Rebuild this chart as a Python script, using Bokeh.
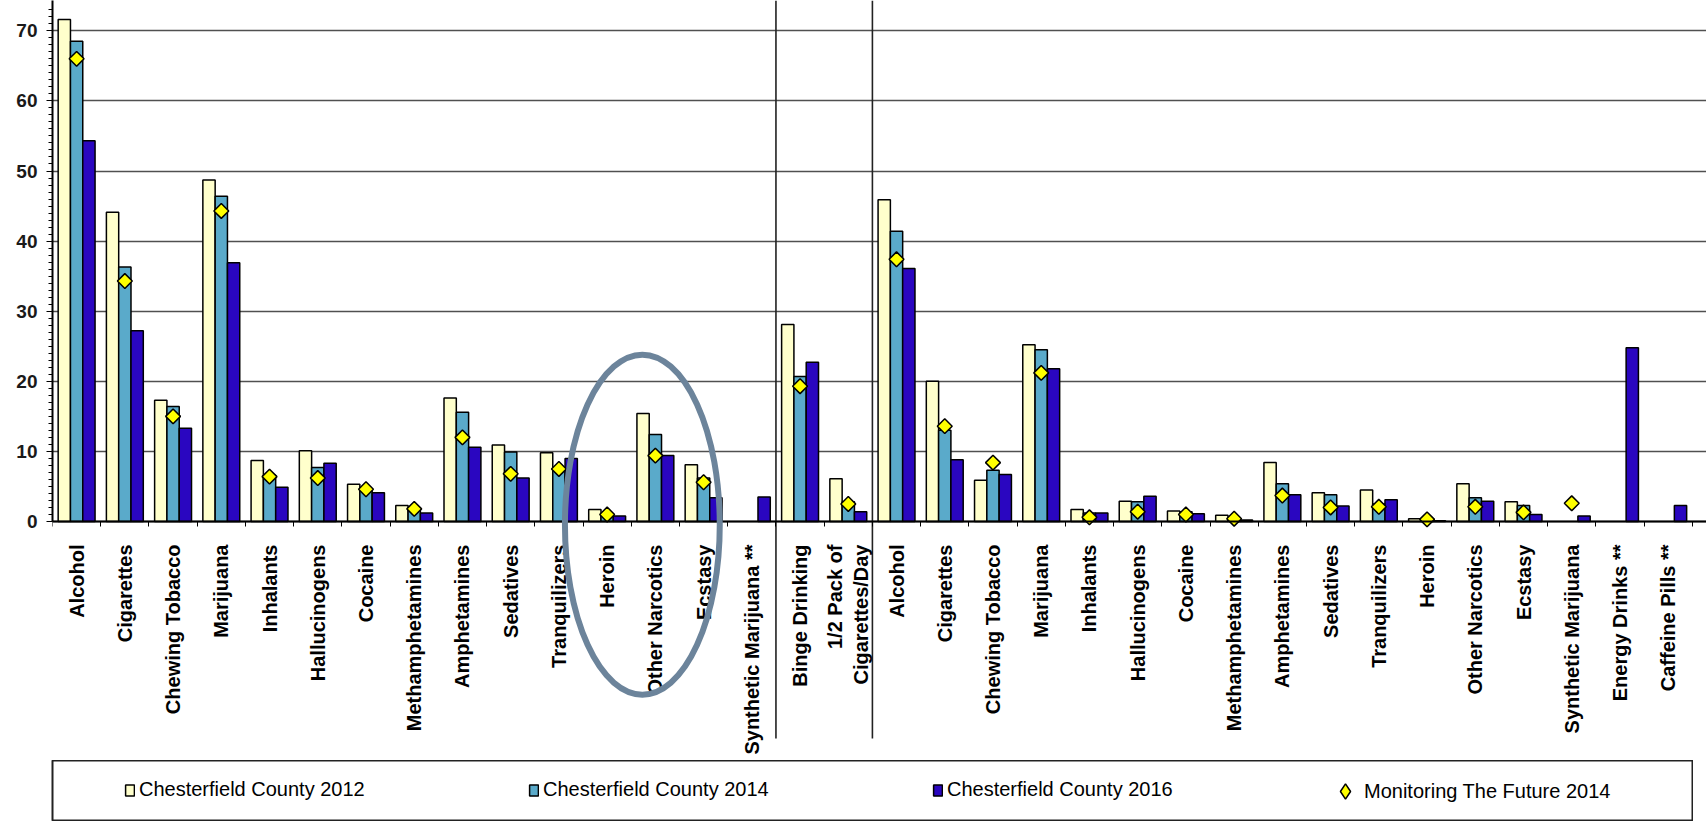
import math
import numpy as np
from bokeh.plotting import figure
from bokeh.models import Range1d, FixedTicker, Legend, LegendItem
from bokeh.layouts import column
from bokeh.embed import file_html
from bokeh.resources import INLINE

nan = float("nan")

# ---------------- data ----------------
sec1 = ["Alcohol", "Cigarettes", "Chewing Tobacco", "Marijuana", "Inhalants",
        "Hallucinogens", "Cocaine", "Methamphetamines", "Amphetamines",
        "Sedatives", "Tranquilizers", "Heroin", "Other Narcotics", "Ecstasy",
        "Synthetic Marijuana **"]
sec2 = ["Binge Drinking", "1/2 Pack of\nCigarettes/Day"]
sec3 = ["Alcohol", "Cigarettes", "Chewing Tobacco", "Marijuana", "Inhalants",
        "Hallucinogens", "Cocaine", "Methamphetamines", "Amphetamines",
        "Sedatives", "Tranquilizers", "Heroin", "Other Narcotics", "Ecstasy",
        "Synthetic Marijuana", "Energy Drinks **", "Caffeine Pills **"]
categories = sec1 + sec2 + sec3

cc2012 = [71.6, 44.1, 17.3, 48.7, 8.7, 10.1, 5.3, 2.3, 17.6, 10.9, 9.8, 1.7, 15.4, 8.1, nan,
          28.1, 6.1,
          45.9, 20.0, 5.9, 25.2, 1.7, 2.9, 1.5, 0.9, 8.4, 4.1, 4.5, 0.4, 5.4, 2.8, nan, nan, nan]
cc2014 = [68.5, 36.3, 16.4, 46.4, 6.6, 7.7, 4.4, 1.6, 15.6, 9.9, 7.3, 1.1, 12.4, 6.2, nan,
          20.7, 2.8,
          41.4, 13.0, 7.3, 24.5, 1.2, 2.8, 1.4, 0.5, 5.4, 3.8, 2.5, 0.2, 3.4, 2.3, nan, nan, nan]
cc2016 = [54.3, 27.2, 13.3, 36.9, 4.9, 8.3, 4.1, 1.2, 10.6, 6.2, 9.0, 0.8, 9.4, 3.4, 3.5,
          22.7, 1.4,
          36.1, 8.8, 6.7, 21.8, 1.2, 3.6, 1.1, 0.2, 3.8, 2.2, 3.1, 0.1, 2.9, 1.0, 0.8, 24.8, 2.3]
mtf2014 = [66.0, 34.3, 15.0, 44.3, 6.4, 6.2, 4.6, 1.8, 12.0, 6.8, 7.5, 1.0, 9.4, 5.6, nan,
           19.3, 2.5,
           37.4, 13.6, 8.4, 21.2, 0.6, 1.4, 1.0, 0.4, 3.7, 2.0, 2.1, 0.3, 2.1, 1.3, 2.6, nan, nan]

y_ticks = [0, 10, 20, 30, 40, 50, 60, 70]
series_labels = ["Chesterfield County 2012", "Chesterfield County 2014",
                 "Chesterfield County 2016", "Monitoring The Future 2014"]

# ---------------- layout constants (pixels) ----------------
FIG_W, FIG_H = 1706, 760
LEFT = 52            # frame left
ZERO_Y = 521         # pixel row of value 0 (from figure top)
FRAME_B = 756        # frame bottom pixel row
DIV_B = 738          # bottom of divider lines
PX_PER_UNIT = 7.01
CAT_PX = 48.23

y_end = ZERO_Y / PX_PER_UNIT
y_start = -(FRAME_B - ZERO_Y) / PX_PER_UNIT
y_div = -(DIV_B - ZERO_Y) / PX_PER_UNIT
x_end = (FIG_W - LEFT) / CAT_PX

C_2012 = "#FFFFCC"
C_2014 = "#5AAACA"
C_2016 = "#2A06C0"
C_MTF = "#FFFF00"
FONT = "Liberation Sans"

n = len(categories)
centers = np.arange(n) + 0.5
bw = 0.255

p = figure(width=FIG_W, height=FIG_H,
           x_range=Range1d(0, x_end), y_range=Range1d(y_start, y_end),
           min_border_left=LEFT, min_border_right=0, min_border_top=0,
           min_border_bottom=FIG_H - FRAME_B,
           toolbar_location=None, output_backend="svg")
p.outline_line_color = None
p.background_fill_color = "white"
p.xgrid.visible = False

p.ygrid.grid_line_color = "#505050"
p.ygrid.grid_line_width = 1.5

bar_kw = dict(width=bw, line_color="black", line_width=1.5)
p.vbar(x=centers - bw, top=cc2012, bottom=0, fill_color=C_2012, **bar_kw)
p.vbar(x=centers, top=cc2014, bottom=0, fill_color=C_2014, **bar_kw)
p.vbar(x=centers + bw, top=cc2016, bottom=0, fill_color=C_2016, **bar_kw)
p.scatter(x=centers, y=mtf2014, marker="square", angle=math.pi / 4, size=10.5,
          fill_color=C_MTF, line_color="black", line_width=1.5)

# section dividers
bounds_x = [len(sec1), len(sec1) + len(sec2)]
p.segment(x0=bounds_x, y0=[y_div] * 2, x1=bounds_x, y1=[y_end] * 2,
          line_color="#222222", line_width=1.6)

# highlight ellipse annotation
p.ellipse(x=[12.23], y=[-0.45], width=3.21, height=48.5, fill_color=None,
          line_color="#6C849B", line_width=6, level="overlay")

# y axis
ya = p.yaxis[0]
ya.ticker = FixedTicker(ticks=y_ticks, minor_ticks=list(range(0, 74)))
ya.bounds = (0, y_end)
ya.axis_line_color = "black"
ya.axis_line_width = 2
ya.major_tick_out = 6
ya.major_tick_in = 0
ya.minor_tick_out = 4
ya.minor_tick_in = 0
ya.major_tick_line_color = "black"
ya.minor_tick_line_color = "black"
ya.major_label_text_font = FONT
ya.major_label_text_font_style = "bold"
ya.major_label_text_font_size = "19px"
ya.major_label_text_color = "#1a1a1a"
ya.major_label_standoff = 9

# x axis (fixed at zero)
xa = p.xaxis[0]
xa.fixed_location = 0
xa.ticker = FixedTicker(ticks=list(centers), minor_ticks=list(range(0, n + 1)))
xa.major_label_overrides = {float(c): lab for c, lab in zip(centers, categories)}
xa.major_label_orientation = math.pi / 2
xa.major_tick_line_color = None
xa.major_tick_out = 0
xa.major_tick_in = 0
xa.minor_tick_out = 5
xa.minor_tick_in = 0
xa.minor_tick_line_color = "black"
xa.axis_line_color = "black"
xa.axis_line_width = 2
xa.major_label_text_font = FONT
xa.major_label_text_font_style = "bold"
xa.major_label_text_font_size = "20px"
xa.major_label_text_color = "black"
xa.major_label_standoff = 18

# ---------------- legend figure ----------------
lf = figure(width=1693, height=61, x_range=(0, 1), y_range=(0, 1),
            min_border_left=51, min_border_right=0, min_border_top=0, min_border_bottom=0,
            x_axis_location=None, y_axis_location=None,
            toolbar_location=None, output_backend="svg")
lf.grid.visible = False
lf.outline_line_color = "#222222"
lf.outline_line_width = 2

r1 = lf.vbar(x=[nan], top=[nan], width=0.1, fill_color=C_2012, line_color="black", line_width=1.5)
r2 = lf.vbar(x=[nan], top=[nan], width=0.1, fill_color=C_2014, line_color="black", line_width=1.5)
r3 = lf.vbar(x=[nan], top=[nan], width=0.1, fill_color=C_2016, line_color="black", line_width=1.5)
r4 = lf.scatter(x=[nan], y=[nan], marker="diamond", size=16, fill_color=C_MTF,
                line_color="black", line_width=1.5)

leg_kw = dict(orientation="horizontal", padding=0, margin=0,
              border_line_color=None, background_fill_alpha=0,
              label_text_font=FONT, label_text_font_size="20px",
              label_text_color="black")
legend = Legend(items=[LegendItem(label=series_labels[0], renderers=[r1]),
                       LegendItem(label=series_labels[1], renderers=[r2]),
                       LegendItem(label=series_labels[2], renderers=[r3])],
                location=(72, 20), spacing=149,
                glyph_width=11, glyph_height=14, label_width=240, label_standoff=4,
                **leg_kw)
legend_mtf = Legend(items=[LegendItem(label=series_labels[3], renderers=[r4])],
                    location=(1274, 11),
                    glyph_width=38, glyph_height=38, label_standoff=-8,
                    **leg_kw)
lf.add_layout(legend)
lf.add_layout(legend_mtf)

layout = column(p, lf, spacing=0)
open("out.html", "w").write(file_html(layout, INLINE))
